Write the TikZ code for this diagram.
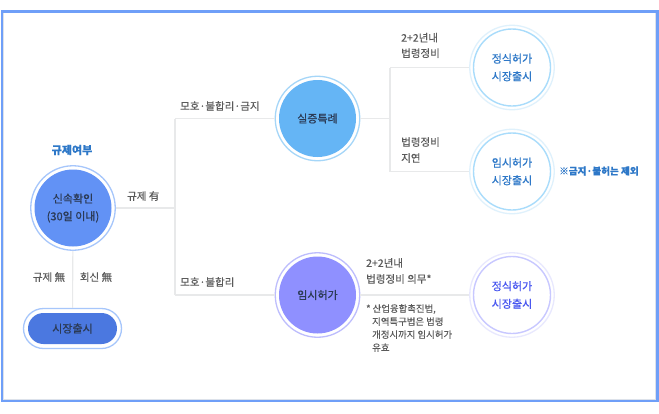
\documentclass[tikz,border=0pt]{standalone}
\usepackage{fontspec}
\setmainfont[FakeBold=0.25]{Noto Sans CJK KR}
\newfontfamily\medkr[FakeBold=0.7]{Noto Sans CJK KR}
\definecolor{frameblue}{HTML}{6F9FF8}
\definecolor{shadowgray}{HTML}{DDE2EA}
\definecolor{linegray}{HTML}{E8E9EA}
\definecolor{txt}{HTML}{5A5A5A}
\definecolor{ringa}{HTML}{A6C6FB}
\definecolor{fa}{HTML}{6292F5}
\definecolor{ringb}{HTML}{A5D6F8}
\definecolor{fb}{HTML}{65B5F5}
\definecolor{ringc}{HTML}{BDBDFD}
\definecolor{fc}{HTML}{8F90FF}
\definecolor{outd}{HTML}{DFF1FC}
\definecolor{ind}{HTML}{A9DCFB}
\definecolor{txd}{HTML}{2E78C8}
\definecolor{outf}{HTML}{E8E8FE}
\definecolor{inf}{HTML}{C8C8FF}
\definecolor{txf}{HTML}{4A58F0}
\definecolor{fp}{HTML}{4B78E0}
\definecolor{darktxt}{HTML}{2B3A55}
\tikzset{
  x=1pt,y=-1pt,
  conn/.style={draw=linegray,line width=1.1pt},
  lab/.style={text=txt,font=\fontsize{10.5}{15.5}\selectfont,align=left,anchor=west,inner sep=0pt},
  ctext/.style={font=\medkr\fontsize{11}{17.6}\selectfont,align=center,inner sep=0pt},
  bigc/.style={circle,minimum size=77pt,inner sep=0pt},
  ringo/.style={circle,minimum size=84.5pt,inner sep=0pt,fill=white,line width=1.3pt},
}
\begin{document}
\begin{tikzpicture}
\useasboundingbox (0,0) rectangle (659,413);
\fill[white] (0,0) rectangle (659,413);
\draw[shadowgray,line width=1.2pt] (3.8,12.8) rectangle (655.2,399.2);
\node[draw=frameblue,line width=2.6pt,minimum width=655.6pt,minimum height=389.6pt,inner sep=0pt] (frame) at (329.8,206) {};
% connector junctions
\coordinate (j1) at (175,208);
\coordinate (j1t) at (175,118.5);
\coordinate (j1b) at (175,295);
\coordinate (j2) at (390,118.5);
\coordinate (j2t) at (390,67.5);
\coordinate (j2b) at (390,171.5);
% circles
\node[ringo,draw=ringa] (a0) at (73,208) {};
\node[ringo,draw=ringb] (b0) at (317.5,118.5) {};
\node[ringo,draw=ringc] (c0) at (317.5,295) {};
\node[ringo,draw=outd] (d0) at (512,67.5) {};
\node[ringo,draw=outd] (e0) at (512,171.5) {};
\node[ringo,draw=outf] (f0) at (512,295) {};
\node[draw=ringa,fill=white,line width=1.3pt,rounded corners=20pt,minimum width=98pt,minimum height=40pt,inner sep=0pt] (p0) at (72.5,328.5) {};
% connectors
\draw[conn] (a0) -- (j1);
\draw[conn] (j1t) -- (j1b);
\draw[conn] (j1t) -- (b0);
\draw[conn] (j1b) -- (c0);
\draw[conn] (b0) -- (j2);
\draw[conn] (j2t) -- (j2b);
\draw[conn] (j2t) -- (d0);
\draw[conn] (j2b) -- (e0);
\draw[conn] (c0) -- (f0);
\draw[conn] (a0) -- (p0);
% inner
\node[bigc,fill=fa,ctext,text=darktxt] (a) at (73,208) {신속확인\\(30일 이내)};
\node[bigc,fill=fb,ctext,text=darktxt] (b) at (317.5,118.5) {실증특례};
\node[bigc,fill=fc,ctext,text=darktxt] (c) at (317.5,295) {임시허가};
\node[bigc,draw=ind,line width=1.4pt,fill=white,ctext,text=txd] (d) at (512,67.5) {정식허가\\시장출시};
\node[bigc,draw=ind,line width=1.4pt,fill=white,ctext,text=txd] (e) at (512,171.5) {임시허가\\시장출시};
\node[bigc,draw=inf,line width=1.4pt,fill=white,ctext,text=txf] (f) at (512,295) {정식허가\\시장출시};
\node[fill=fp,rounded corners=15.5pt,minimum width=89pt,minimum height=31pt,inner sep=0pt,font=\medkr\fontsize{11}{13}\selectfont,text=darktxt] (p) at (72.5,328.5) {시장출시};
% labels
\node[font=\fontsize{11}{13}\selectfont\bfseries,text=txd,inner sep=0pt] (t0) at (72,150) {규제여부};
\node[lab] (l1) at (127,196) {규제 有};
\node[lab,anchor=center] (l2) at (49,277) {규제 無};
\node[lab,anchor=center] (l3) at (96,277) {회신 無};
\node[lab] (l4) at (180,106) {모호·불합리·금지};
\node[lab] (l5) at (180,282) {모호·불합리};
\node[lab] (l6) at (401,45.5) {2+2년내\\법령정비};
\node[lab,font=\fontsize{10.5}{16}\selectfont] (l7) at (401,150) {법령정비\\지연};
\node[lab,font=\fontsize{10.5}{16}\selectfont] (l8) at (366,271) {2+2년내\\법령정비 의무*};
\node[lab,font=\fontsize{9.4}{13}\selectfont] (l9) at (366,328) {* 산업융합촉진법,\\\hspace*{6pt}지역특구법은 법령\\\hspace*{6pt}개정시까지 임시허가\\\hspace*{6pt}유효};
\node[font=\fontsize{9.6}{11}\selectfont\bfseries,text=txd,anchor=west,inner sep=0pt] (n) at (559,171) {※금지·불허는 제외};
\end{tikzpicture}
\end{document}
